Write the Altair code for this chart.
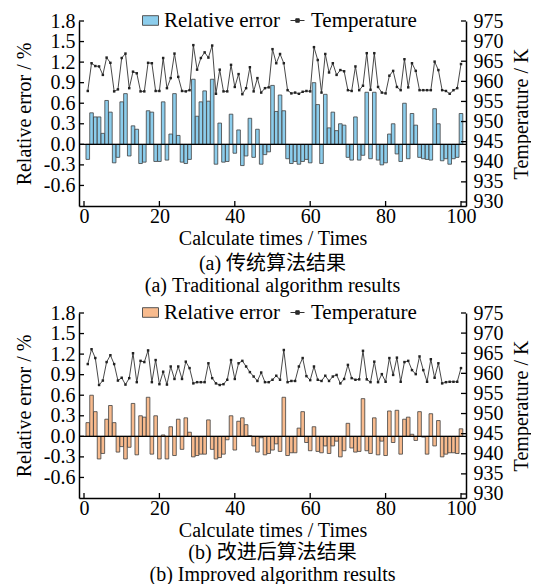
import altair as alt
import pandas as pd

idx = list(range(1, 101))

top_err = [
    -0.22, 0.46, 0.40, 0.40, 0.16, 0.64, 0.47, -0.27, -0.19, 0.62,
    0.74, -0.17, 0.27, 0.22, -0.28, -0.26, 0.49, 0.47, -0.25, -0.25,
    0.62, -0.23, 0.15, 0.74, 0.13, -0.26, -0.28, -0.22, 0.95, 0.41,
    0.62, 0.78, 0.63, 0.95, -0.29, 0.31, -0.26, -0.25, 0.44, -0.13,
    0.21, -0.31, -0.17, 0.38, -0.19, 0.22, -0.29, -0.15, -0.11, 0.86,
    0.48, 0.72, 0.49, -0.21, -0.28, -0.25, -0.29, -0.25, -0.22, -0.27,
    0.90, 0.58, -0.28, 0.73, 0.24, 0.47, 0.20, 0.30, 0.28, -0.19,
    -0.23, 0.40, -0.23, -0.16, 0.76, -0.21, 0.76, -0.23, -0.30, -0.27,
    0.15, 0.30, -0.14, -0.25, 0.60, -0.21, 0.45, 0.28, -0.19, -0.21,
    -0.22, -0.23, 0.52, 0.30, -0.24, -0.21, -0.29, -0.21, -0.19, 0.45,
]
top_temp = [
    957.6, 964.5, 963.8, 963.7, 961.6, 965.9, 964.6, 957.5, 958.0, 965.8,
    966.9, 958.3, 962.4, 962.0, 957.5, 957.5, 964.6, 964.5, 957.6, 957.6,
    965.8, 958.3, 960.8, 966.9, 961.1, 957.6, 957.5, 957.8, 969.0, 962.9,
    965.8, 967.2, 965.9, 968.9, 956.9, 962.9, 957.5, 957.5, 964.1, 958.6,
    961.8, 956.8, 958.3, 963.5, 957.5, 960.8, 957.2, 958.3, 958.5, 968.0,
    964.5, 966.8, 964.5, 957.8, 957.0, 957.2, 956.9, 957.4, 957.6, 957.5,
    968.5, 965.3, 957.2, 966.8, 962.2, 964.5, 961.6, 962.8, 962.5, 957.8,
    957.6, 963.7, 957.8, 958.9, 967.0, 957.9, 967.0, 958.6, 957.2, 957.0,
    961.4, 962.6, 958.6, 957.8, 965.5, 958.5, 964.5, 962.6, 957.8, 957.8,
    957.8, 957.8, 964.9, 962.8, 957.8, 957.6, 956.9, 957.8, 958.3, 964.3,
]
bot_err = [
    0.20, 0.60, 0.36, -0.33, -0.25, 0.25, 0.45, 0.20, -0.23, -0.15,
    -0.33, -0.16, 0.48, -0.27, 0.30, 0.28, 0.57, -0.26, 0.30, -0.33,
    0.02, -0.33, 0.14, -0.28, 0.25, -0.19, 0.27, 0.06, -0.30, -0.28,
    -0.26, -0.26, 0.24, -0.19, -0.33, -0.31, -0.26, -0.05, 0.30, -0.20,
    0.22, 0.27, 0.17, 0.01, -0.14, -0.23, -0.02, -0.27, -0.25, -0.20,
    -0.11, -0.22, 0.57, -0.28, -0.24, -0.24, 0.12, 0.36, -0.09, -0.21,
    0.14, -0.22, -0.24, -0.14, -0.25, -0.14, -0.07, -0.30, -0.21, 0.19,
    -0.17, -0.23, -0.22, 0.55, -0.21, -0.25, 0.27, -0.27, -0.07, -0.28,
    0.37, -0.09, 0.38, -0.26, 0.25, 0.28, 0.03, -0.06, 0.36, -0.01,
    -0.26, 0.33, -0.14, 0.23, -0.30, -0.26, -0.24, -0.24, -0.25, 0.11,
]
bot_temp = [
    962.3, 966.0, 963.8, 957.1, 958.2, 962.8, 964.5, 962.3, 958.2, 958.9,
    957.2, 958.8, 965.0, 957.8, 963.1, 962.8, 965.7, 957.8, 963.3, 957.3,
    960.4, 957.2, 961.7, 958.6, 961.7, 958.6, 962.9, 961.3, 957.5, 957.8,
    957.8, 957.8, 962.5, 958.8, 957.5, 957.1, 957.3, 958.4, 963.3, 958.6,
    962.5, 963.1, 961.7, 960.3, 959.2, 958.1, 960.2, 957.8, 957.8, 958.4,
    959.4, 958.4, 965.8, 957.8, 958.1, 958.1, 961.7, 963.8, 959.3, 958.3,
    961.7, 958.4, 958.1, 959.4, 958.1, 959.2, 959.6, 957.5, 958.6, 962.1,
    958.8, 958.4, 958.5, 965.6, 958.5, 957.8, 962.9, 957.8, 959.8, 957.9,
    963.8, 959.6, 963.9, 957.9, 962.8, 963.1, 960.8, 959.8, 964.2, 960.8,
    957.9, 963.5, 958.9, 962.5, 957.5, 957.8, 957.9, 957.9, 957.9, 961.3,
]

x_ticks = [0, 20, 40, 60, 80, 100]
left_ticks = [-0.6, -0.3, 0.0, 0.3, 0.6, 0.9, 1.2, 1.5, 1.8]
right_ticks = [930, 935, 940, 945, 950, 955, 960, 965, 970, 975]

captions_a = ["(a) 传统算法结果", "(a) Traditional algorithm results"]
captions_b = ["(b) 改进后算法结果", "(b) Improved algorithm results"]

FONT = "Liberation Serif, Noto Sans CJK SC"
W, H = 387, 185


def panel(err, temp, fill_color, caption, cap_offset):
    df = pd.DataFrame({"i": idx, "err": err, "temp": temp,
                       "s1": "Relative error", "s2": "Temperature"})
    xs = alt.Scale(domain=[0, 100], nice=False, zero=False)
    xaxis = alt.Axis(values=x_ticks, title="Calculate times / Times", ticks=False,
                     grid=False, labelPadding=0, titlePadding=2, labelFlush=False)
    ys = alt.Scale(domain=[-0.9, 1.8], nice=False, zero=False)
    yaxis = alt.Axis(values=left_ticks, title="Relative error / %", orient="left",
                     ticks=False, grid=False, labelPadding=4, titlePadding=9,
                     labelExpr="replace(format(datum.value, '.1f'), '\u2212', '-')")
    ts = alt.Scale(domain=[929, 975], nice=False, zero=False)
    taxis = alt.Axis(values=right_ticks, title="Temperature / K", orient="right",
                     ticks=False, grid=False, labelPadding=7, titlePadding=8,
                     titleAngle=270, titleBaseline="top")

    bars = alt.Chart(df).mark_bar(size=3.6, stroke="#404040", strokeWidth=0.8).encode(
        x=alt.X("i:Q", scale=xs, axis=xaxis),
        y=alt.Y("err:Q", scale=ys, axis=yaxis),
        fill=alt.Fill("s1:N", scale=alt.Scale(domain=["Relative error"], range=[fill_color]),
                      legend=alt.Legend(title=None, orient="none", legendX=61, legendY=-11,
                                        symbolType="M-1,-0.6H1V0.6H-1Z", symbolSize=256,
                                        symbolStrokeColor="#555", symbolStrokeWidth=1,
                                        labelOffset=3, padding=0)),
    )
    zero = alt.Chart(pd.DataFrame({"z": [0.0]})).mark_rule(color="black", strokeWidth=1.2).encode(
        y=alt.Y("z:Q", scale=ys, axis=yaxis)
    )
    lticks = alt.Chart(pd.DataFrame({"v": left_ticks})).mark_rule(color="black", strokeWidth=1.3).encode(
        y=alt.Y("v:Q", scale=ys, axis=yaxis), x=alt.value(0), x2=alt.value(5)
    )
    bticks = alt.Chart(pd.DataFrame({"v": x_ticks})).mark_rule(color="black", strokeWidth=1.3).encode(
        x=alt.X("v:Q", scale=xs, axis=xaxis), y=alt.value(H), y2=alt.value(H - 5)
    )
    left = alt.layer(bars, zero, lticks, bticks)

    line = alt.Chart(df).mark_line(strokeWidth=0.9, point=alt.OverlayMarkDef(
        shape="square", size=6, filled=True, color="#222", strokeWidth=0)).encode(
        x=alt.X("i:Q", scale=xs, axis=xaxis),
        y=alt.Y("temp:Q", scale=ts, axis=taxis),
        stroke=alt.Stroke("s2:N", scale=alt.Scale(domain=["Temperature"], range=["#333333"]),
                          legend=alt.Legend(title=None, orient="none", legendX=208, legendY=-11,
                                            symbolType="M-1,0H1M-0.25,-0.25H0.25V0.25H-0.25Z",
                                            symbolSize=196, symbolStrokeWidth=1,
                                            symbolFillColor="#333333", labelOffset=3, padding=0)),
    )
    rticks = alt.Chart(pd.DataFrame({"v": right_ticks})).mark_rule(color="black", strokeWidth=1.3).encode(
        y=alt.Y("v:Q", scale=ts, axis=taxis), x=alt.value(W), x2=alt.value(W - 5)
    )
    right = alt.layer(line, rticks)

    return alt.layer(left, right).resolve_scale(y="independent").properties(
        width=W, height=H,
        title=alt.Title(text=caption, orient="bottom", anchor="middle", offset=cap_offset),
    )


chart = alt.vconcat(
    panel(top_err, top_temp, "#8ccdec", captions_a, 6),
    panel(bot_err, bot_temp, "#f8bb8e", captions_b, 3),
    spacing=6,
).resolve_scale(
    y="independent", fill="independent", stroke="independent"
).resolve_legend(
    fill="independent", stroke="independent"
).properties(
    padding={"left": 6, "right": 0, "top": 2, "bottom": 0}
).configure_axis(
    labelFont=FONT, titleFont=FONT, labelFontSize=20, titleFontSize=20,
    labelColor="black", titleColor="black", titleFontWeight="normal",
    domainColor="black", domainWidth=1.5,
).configure_legend(
    labelFont=FONT, labelFontSize=21, labelColor="black",
).configure_title(
    font=FONT, fontSize=20, fontWeight="normal", color="black", lineHeight=22,
).configure_view(stroke=None)

chart.save("out.html", embed_options={"renderer": "svg", "actions": False})
